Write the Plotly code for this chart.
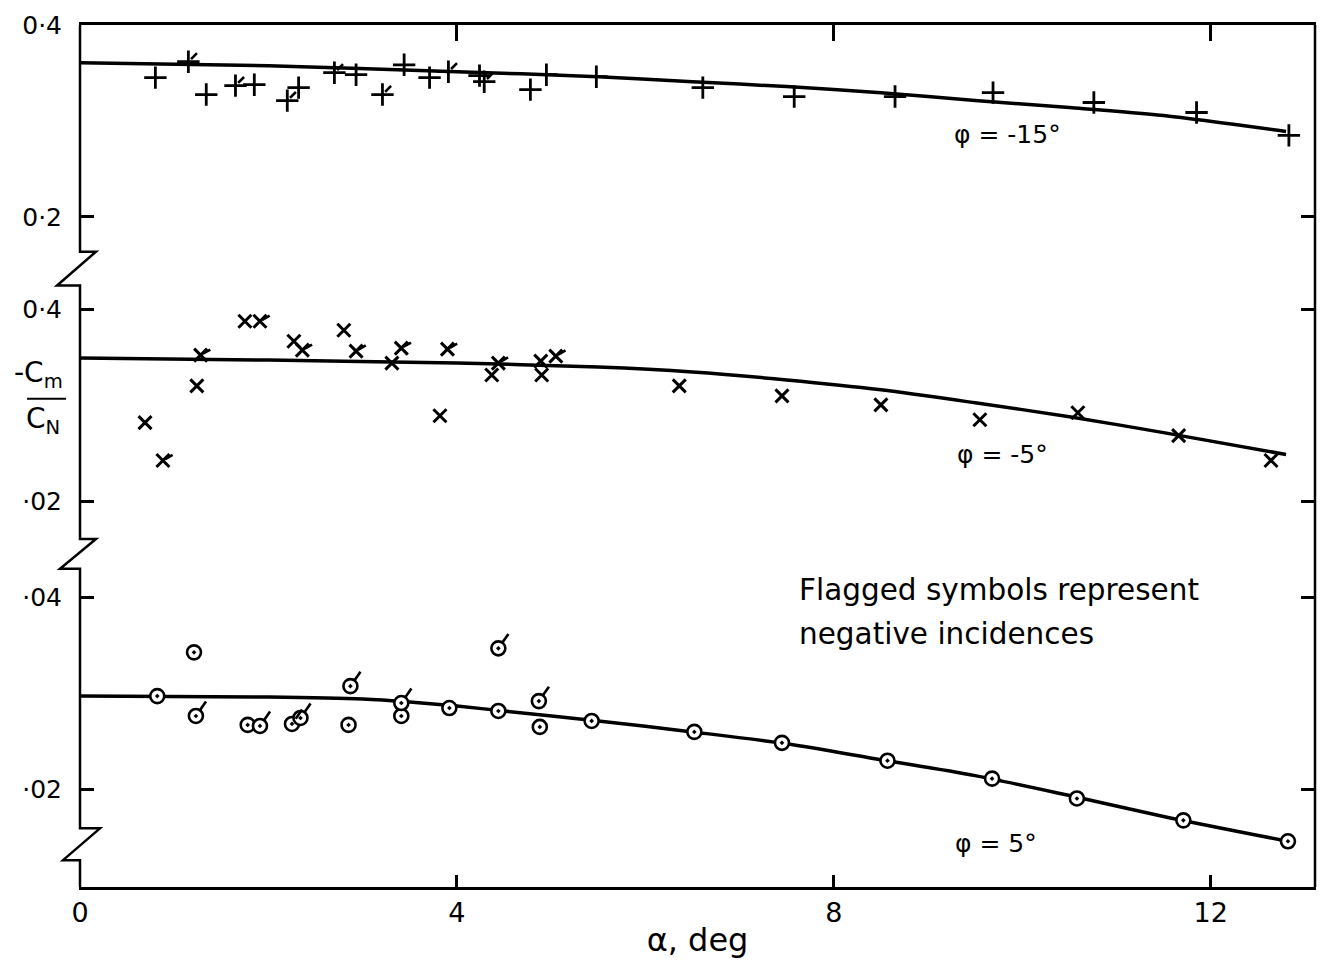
import plotly.graph_objects as go
from plotly.subplots import make_subplots

# ---------------- data ----------------
# phi = -15 deg  (top panel)
alpha_m15_curve = [0, 2, 4, 5.5, 6.5, 7.5, 8.5, 9.5, 10.5, 11.5, 12.8]
cm_m15_curve = [0.3606, 0.3575, 0.3513, 0.3461, 0.3409, 0.3358, 0.3295, 0.3212, 0.3140, 0.3057, 0.2891]
alpha_m15_plain = [0.80, 1.34, 1.85, 2.32, 2.93, 3.44, 3.71, 4.24, 4.78, 4.95, 5.48, 6.61, 7.58, 8.65, 9.69, 10.76, 11.85, 12.83]
cm_m15_plain = [0.3451, 0.3275, 0.3378, 0.3347, 0.3482, 0.3585, 0.3451, 0.3472, 0.3326, 0.3482, 0.3461, 0.3347, 0.3254, 0.3254, 0.3295, 0.3192, 0.3088, 0.2850]
alpha_m15_flag = [1.15, 1.65, 2.20, 2.70, 3.21, 3.91, 4.29]
cm_m15_flag = [0.3617, 0.3368, 0.3212, 0.3503, 0.3275, 0.3513, 0.3409]

# phi = -5 deg  (middle panel)
alpha_m5_curve = [0, 2, 4, 5.5, 6.5, 7.5, 8.5, 9.5, 10.5, 11.5, 12.8]
cm_m5_curve = [0.3492, 0.3471, 0.3440, 0.3399, 0.3347, 0.3264, 0.3161, 0.3026, 0.2881, 0.2715, 0.2487]
alpha_m5_plain = [0.69, 1.24, 1.75, 2.27, 2.80, 3.31, 3.82, 4.37, 4.90, 4.89, 6.36, 7.45, 8.50, 9.55, 10.59, 11.66, 12.64]
cm_m5_plain = [0.2819, 0.3202, 0.3876, 0.3668, 0.3782, 0.3440, 0.2891, 0.3316, 0.3316, 0.3461, 0.3202, 0.3098, 0.3005, 0.2850, 0.2922, 0.2684, 0.2425]
alpha_m5_flag = [0.88, 1.28, 1.91, 2.36, 2.93, 3.41, 3.90, 4.44, 5.05]
cm_m5_flag = [0.2425, 0.3523, 0.3876, 0.3575, 0.3565, 0.3596, 0.3585, 0.3440, 0.3513]

# phi = 5 deg  (bottom panel)
alpha_p5_curve = [0, 2, 3, 3.5, 4, 4.5, 5.5, 6.5, 7.5, 8.5, 9.5, 10.5, 11.5, 12.82]
cm_p5_curve = [0.2974, 0.2964, 0.2943, 0.2912, 0.2870, 0.2819, 0.2715, 0.2601, 0.2477, 0.2311, 0.2145, 0.1938, 0.1720, 0.1461]
alpha_p5_plain = [0.82, 1.21, 1.78, 2.85, 3.41, 3.92, 4.44, 4.88, 5.43, 6.52, 7.45, 8.57, 9.68, 10.58, 11.71, 12.82]
cm_p5_plain = [0.2974, 0.3430, 0.2674, 0.2674, 0.2767, 0.2850, 0.2819, 0.2653, 0.2715, 0.2601, 0.2487, 0.2301, 0.2114, 0.1907, 0.1679, 0.1461]
alpha_p5_flag = [1.23, 1.91, 2.25, 2.34, 2.87, 3.41, 4.44, 4.87]
cm_p5_flag = [0.2767, 0.2663, 0.2684, 0.2746, 0.3078, 0.2902, 0.3472, 0.2922]

x_tick_vals = [0, 4, 8, 12]
x_tick_text = ["0", "4", "8", "12"]
y_tick_vals = [0.2, 0.4]
y_tick_text = [["0·2", "0·4"], ["·02", "0·4"], ["·02", "·04"]]
curve_labels = ["φ = -15°", "φ = -5°", "φ = 5°"]
note_lines = ["Flagged symbols represent", "negative incidences"]
x_title = "α, deg"

# ---------------- layout geometry ----------------
W, H = 1327, 967
L, R, T, B = 80, 1316, 20, 887
PX_PER_UNIT = 965.0
PX_PER_DEG = 94.3
bounds = [T, 265, 552, B]
tick04_px = [20, 306, 596]

ranges = []
heights = []
for i in range(3):
    top, bot = bounds[i], bounds[i + 1]
    ranges.append([0.4 - (bot - tick04_px[i]) / PX_PER_UNIT, 0.4 + (tick04_px[i] - top) / PX_PER_UNIT])
    heights.append(bot - top)


def pp(px, py):
    return (px - L) / (R - L), (B - py) / (B - T)


FONT = "DejaVu Sans"
INK = "black"

fig = make_subplots(rows=3, cols=1, shared_xaxes=True, vertical_spacing=0,
                    row_heights=heights)

# flag: angle points opposite to the standoff direction, so +180 gives an up-right flag
panels = [
    (alpha_m15_curve, cm_m15_curve, alpha_m15_plain, cm_m15_plain, alpha_m15_flag, cm_m15_flag,
     "cross-thin", 16, 2.8, dict(angle=225, standoff=8, size=6)),
    (alpha_m5_curve, cm_m5_curve, alpha_m5_plain, cm_m5_plain, alpha_m5_flag, cm_m5_flag,
     "x-thin", 13, 3.0, dict(angle=240, standoff=7, size=6)),
    (alpha_p5_curve, cm_p5_curve, alpha_p5_plain, cm_p5_plain, alpha_p5_flag, cm_p5_flag,
     "circle-dot", 14, 2.6, dict(angle=215, standoff=12, size=8)),
]

for i, (ac, cc, ap, cp, af, cf, sym, size, lw, flag) in enumerate(panels, start=1):
    fig.add_trace(go.Scatter(x=ac, y=cc, mode="lines", line=dict(color=INK, width=3.5, shape="spline", smoothing=0.8),
                             hoverinfo="skip", showlegend=False), row=i, col=1)
    mk = dict(symbol=sym, size=size, color="white" if sym == "circle-dot" else INK,
              line=dict(color=INK, width=lw))
    fig.add_trace(go.Scatter(x=ap + af, y=cp + cf, mode="markers", marker=mk, showlegend=False), row=i, col=1)
    fig.add_trace(go.Scatter(x=af, y=cf, mode="markers",
                             marker=dict(symbol="line-ns", size=flag["size"], angle=flag["angle"],
                                         standoff=flag["standoff"], color=INK,
                                         line=dict(color=INK, width=2.6)),
                             showlegend=False, hoverinfo="skip"), row=i, col=1)

xr = [0, (R - L) / PX_PER_DEG]
for i in range(1, 4):
    fig.update_xaxes(range=xr, showgrid=False, zeroline=False, row=i, col=1)
    fig.update_yaxes(range=ranges[i - 1], tickvals=y_tick_vals, ticktext=y_tick_text[i - 1],
                     ticks="inside", ticklen=14, tickwidth=2.5, tickcolor=INK,
                     showline=True, linecolor="rgba(0,0,0,0)", mirror="ticks",
                     showgrid=False, zeroline=False, ticklabelstandoff=12,
                     tickfont=dict(family=FONT, size=25, color=INK), row=i, col=1)

fig.update_xaxes(side="top", showline=True, linecolor=INK, linewidth=2.5, ticks="inside",
                 tickvals=[4, 8, 12], ticklen=16, tickwidth=2.5, tickcolor=INK,
                 showticklabels=False, row=1, col=1)
fig.update_xaxes(showline=False, ticks="", showticklabels=False, row=2, col=1)
fig.update_xaxes(showline=True, linecolor=INK, linewidth=2.5, ticks="inside",
                 tickvals=x_tick_vals, ticktext=x_tick_text, ticklen=12, tickwidth=2.5, tickcolor=INK,
                 tickfont=dict(family=FONT, size=27, color=INK),
                 title=dict(text=x_title, font=dict(family=FONT, size=32, color=INK), standoff=2),
                 row=3, col=1)

# left spine with break marks, right spine
spine = [(80, 20), (80, 248), (96, 248), (57, 282), (80, 282), (80, 537), (96, 537), (60, 567),
         (80, 567), (80, 828), (100, 828), (63, 860), (80, 860), (80, 887)]
path = "M " + " L ".join("%.5f,%.5f" % pp(*p) for p in spine)
shapes = [
    dict(type="path", path=path, xref="paper", yref="paper", line=dict(color=INK, width=2.5)),
    dict(type="line", xref="paper", yref="paper", x0=1, x1=1, y0=0, y1=1, line=dict(color=INK, width=2.5)),
]
bx0, by = pp(27, 396)
bx1, _ = pp(66, 396)
shapes.append(dict(type="line", xref="paper", yref="paper", x0=bx0, x1=bx1, y0=by, y1=by,
                   line=dict(color=INK, width=2)))

annotations = []


def ann(text, px, py, size, xanchor="center"):
    x, y = pp(px, py)
    annotations.append(dict(text=text, x=x, y=y, xref="paper", yref="paper", showarrow=False,
                            xanchor=xanchor, yanchor="middle",
                            font=dict(family=FONT, size=size, color=INK)))


ann(curve_labels[0], 1008, 130, 25)
ann(curve_labels[1], 1003, 452, 25)
ann(curve_labels[2], 997, 843, 25)
ann(note_lines[0], 798, 588, 29.5, "left")
ann(note_lines[1], 798, 633, 29.5, "left")
ann("-C<sub>m</sub>", 38, 372, 28)
ann("C<sub>N</sub>", 43, 418, 28)

fig.update_layout(width=W, height=H, margin=dict(l=L, r=W - R, t=T, b=H - B),
                  paper_bgcolor="white", plot_bgcolor="white", shapes=shapes, annotations=annotations,
                  font=dict(family=FONT, color=INK), showlegend=False)

fig.write_html("out.html", config={"displayModeBar": False},
               post_script="document.body.style.margin='0';document.body.style.overflow='hidden';")
